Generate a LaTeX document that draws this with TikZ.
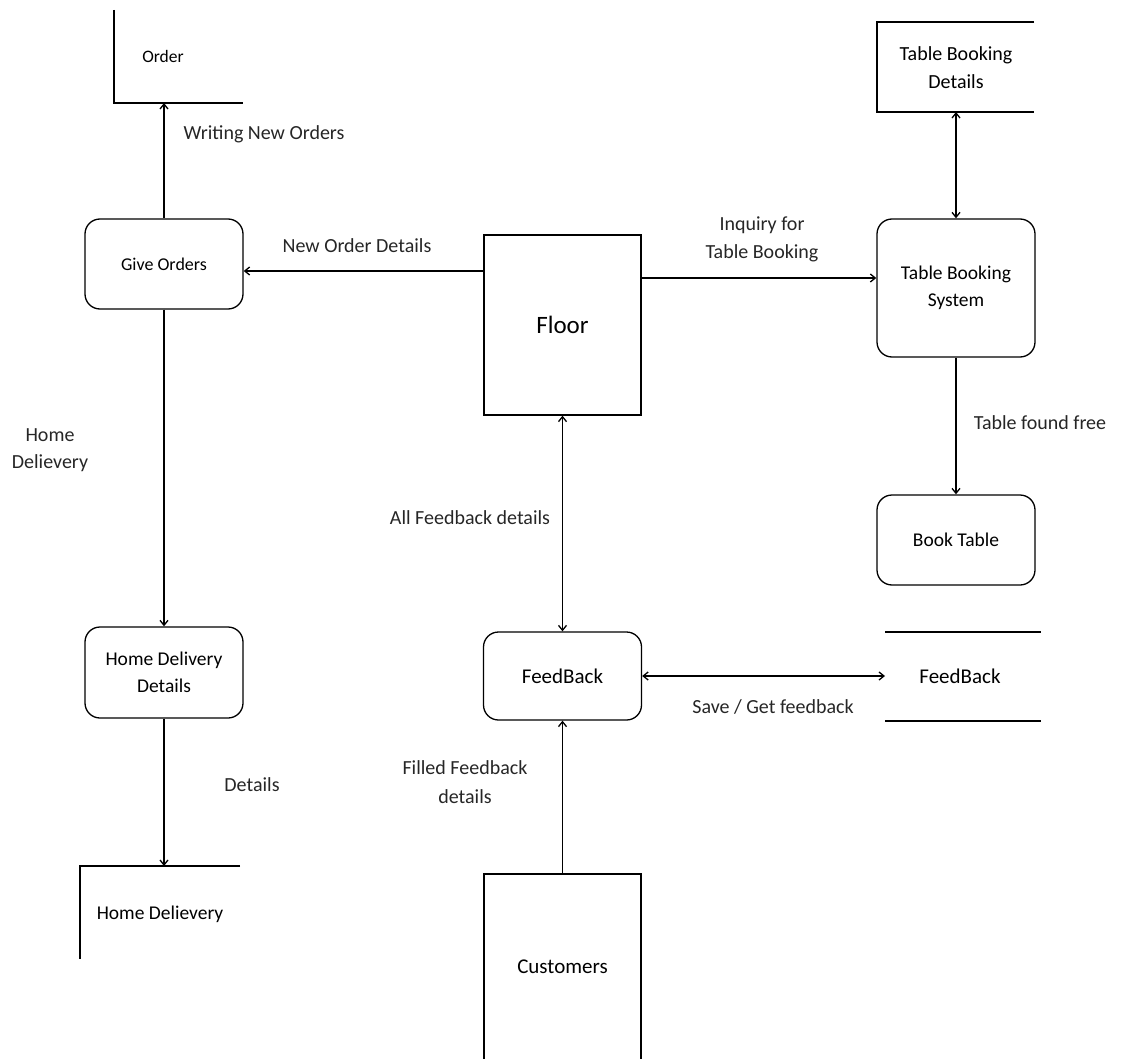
\documentclass[tikz,border=0pt]{standalone}
\usepackage{fontspec}
\setmainfont{Carlito}
\usetikzlibrary{arrows.meta}
\begin{document}
\begin{tikzpicture}[x=1pt,y=-1pt,
  line width=1.3pt,
  proc/.style={draw, rounded corners=15pt, minimum width=158pt, align=center, font=\fontsize{19.5}{27}\selectfont},
  ent/.style={draw, minimum width=157pt, align=center},
  lbl/.style={align=center, font=\fontsize{20}{27}\selectfont, text=black!85},
  flow/.style={-{Straight Barb[length=5pt,width=8pt]}},
  bflow/.style={{Straight Barb[length=5pt,width=8pt]}-{Straight Barb[length=5pt,width=8pt]}}
]
\useasboundingbox (0,0) rectangle (1126,1059);
% entities
\node[ent, minimum height=180pt, font=\fontsize{25}{30}\selectfont] (floor) at (562.5,325) {Floor};
\node[ent, minimum height=186pt, font=\fontsize{21}{25}\selectfont] (cust) at (562.5,967) {Customers};
% processes
\node[proc, minimum height=90pt, font=\fontsize{18}{22}\selectfont] (give) at (164,264) {Give Orders};
\node[proc, minimum height=91pt] (hdd) at (164,672.5) {Home Delivery\\Details};
\node[proc, minimum height=138pt] (tbs) at (956,288) {Table Booking\\System};
\node[proc, minimum height=90pt] (book) at (956,540) {Book Table};
\node[proc, minimum height=88pt, font=\fontsize{21}{25}\selectfont] (fb) at (562.5,676) {FeedBack};
% data stores
\coordinate (ordA) at (114,10);
\coordinate (ordB) at (114,103);
\coordinate (ordC) at (243,103);
\draw (ordA) -- (ordB) -- (ordC);
\node[font=\fontsize{17.5}{21}\selectfont] (ordT) at (163,56) {Order};
\coordinate (tbdA) at (1034,22);
\coordinate (tbdB) at (877,22);
\coordinate (tbdC) at (877,112);
\coordinate (tbdD) at (1034,112);
\coordinate (tbdS) at (956,112);
\draw (tbdA) -- (tbdB) -- (tbdC) -- (tbdD);
\node[align=center, font=\fontsize{20}{28}\selectfont] (tbdT) at (956,68) {Table Booking\\Details};
\coordinate (hdA) at (240,866);
\coordinate (hdB) at (80,866);
\coordinate (hdC) at (80,959);
\coordinate (hdS) at (164,866);
\draw (hdA) -- (hdB) -- (hdC);
\node[font=\fontsize{19.5}{23}\selectfont] (hdT) at (160,914) {Home Delievery};
\coordinate (fsA) at (885,632);
\coordinate (fsB) at (1041,632);
\coordinate (fsC) at (885,721);
\coordinate (fsD) at (1041,721);
\coordinate (fsS) at (885,676);
\draw (fsA) -- (fsB);
\draw (fsC) -- (fsD);
\node[font=\fontsize{21}{25}\selectfont] (fsT) at (960,676) {FeedBack};
% flows
\draw[flow] (give.north) -- (ordB -| give.north);
\draw[flow] (floor.west |- 0,271) -- (give.east |- 0,271);
\draw[flow] (floor.east |- 0,278) -- (tbs.west |- 0,278);
\draw[bflow] (tbdS) -- (tbs.north);
\draw[flow] (tbs.south) -- (book.north);
\draw[bflow] (floor.south) -- (fb.north);
\draw[bflow] (fb.east) -- (fsS);
\draw[flow] (cust.north) -- (fb.south);
\draw[flow] (give.south) -- (hdd.north);
\draw[flow] (hdd.south) -- (hdS);
% labels
\node[lbl] (l1) at (264,134) {Writing New Orders};
\node[lbl] (l2) at (357,246) {New Order Details};
\node[lbl, font=\fontsize{20}{28}\selectfont] (l3) at (762,239) {Inquiry for\\Table Booking};
\node[lbl] (l4) at (1040,423) {Table found free};
\node[lbl] (l5) at (50,450) {Home\\Delievery};
\node[lbl] (l6) at (470,518) {All Feedback details};
\node[lbl] (l7) at (773,707) {Save / Get feedback};
\node[lbl] (l8) at (252,785) {Details};
\node[lbl, font=\fontsize{20}{29}\selectfont] (l9) at (465,782) {Filled Feedback\\details};
\end{tikzpicture}
\end{document}
